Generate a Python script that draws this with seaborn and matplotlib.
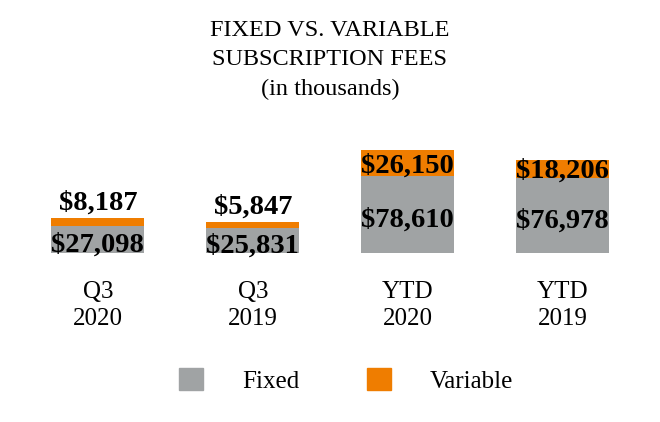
import pandas as pd
import matplotlib.pyplot as plt
import seaborn as sns
from matplotlib.patches import Patch

categories = ["Q3\n2020", "Q3\n2019", "YTD\n2020", "YTD\n2019"]
fixed = [27098, 25831, 78610, 76978]
variable = [8187, 5847, 26150, 18206]

gray = "#A0A3A4"
orange = "#EF7D00"

df = pd.DataFrame({"Period": categories, "Fixed": fixed, "Variable": variable})
df["Total"] = df["Fixed"] + df["Variable"]

sns.set_style("white")
plt.rcParams["font.family"] = ["Liberation Serif", "DejaVu Serif"]
plt.rcParams["text.color"] = "black"
plt.rcParams["xtick.color"] = "black"

fig = plt.figure(figsize=(6.6, 4.22), dpi=100)
ax = fig.add_axes([0.031, 0.4005, 0.939, 0.2555])

# stacked: total in orange, fixed in gray drawn on top
sns.barplot(data=df, x="Period", y="Total", order=categories, color=orange,
            width=0.6, saturation=1, linewidth=0, ax=ax)
sns.barplot(data=df, x="Period", y="Fixed", order=categories, color=gray,
            width=0.6, saturation=1, linewidth=0, ax=ax)

ax.set_xlim(-0.5, 3.5)
ax.set_ylim(0, 110000)
ax.set_xlabel("")
ax.set_ylabel("")
ax.set_yticks([])
ax.tick_params(axis="x", length=0, pad=20, labelsize=18)
for s in ax.spines.values():
    s.set_visible(False)
for lbl in ax.get_xticklabels():
    lbl.set_linespacing(1.3)

lab = dict(ha="center", fontsize=20.5, fontweight="bold", textcoords="offset points")
for i, row in df.iterrows():
    ax.annotate(f"${row['Fixed']:,}", (i, row["Fixed"] / 2), xytext=(0, -4),
                va="center", **lab)
    if row["Variable"] >= 15000:
        ax.annotate(f"${row['Variable']:,}", (i, row["Fixed"] + row["Variable"] / 2),
                    xytext=(0, -2), va="center", **lab)
    else:
        ax.annotate(f"${row['Variable']:,}", (i, row["Total"]), xytext=(0, 6),
                    va="baseline", **lab)

fig.text(0.5, 0.858, "FIXED VS. VARIABLE\nSUBSCRIPTION FEES\n(in thousands)",
         ha="center", va="center", fontsize=17.5, linespacing=1.5)

handles = [Patch(color=gray, label="Fixed"), Patch(color=orange, label="Variable")]
fig.legend(handles=handles, loc="center", bbox_to_anchor=(0.524, 0.098), ncol=2,
           frameon=False, fontsize=18, handlelength=0.96, handleheight=0.96,
           handletextpad=1.56, columnspacing=2.7)

fig.savefig("out.png", dpi=100, facecolor="white")
